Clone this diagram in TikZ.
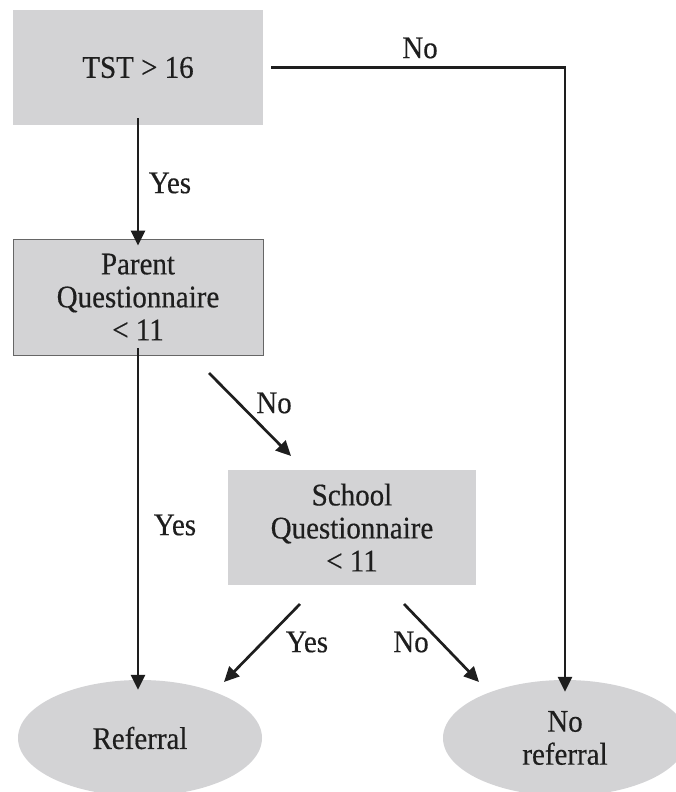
\documentclass[tikz,border=0pt]{standalone}
\usepackage{fontspec}
\setmainfont{Liberation Serif}[FakeStretch=0.92,FakeBold=0.4]
\usetikzlibrary{arrows.meta,shapes.geometric}
\definecolor{boxgray}{HTML}{D3D3D5}
\definecolor{linegray}{HTML}{1E1E1E}
\begin{document}
\begin{tikzpicture}[x=1pt,y=-1pt,
  every node/.style={font=\fontsize{31.5}{33}\selectfont, text=linegray},
  box/.style={fill=boxgray, minimum width=250pt, align=center, inner sep=0pt},
  bordered/.style={draw=gray!80!black, line width=0.8pt},
  oval/.style={ellipse, fill=boxgray, minimum width=244pt, minimum height=116pt, align=center, inner sep=0pt},
  arr/.style={draw=linegray, line width=2.7pt, -{Triangle[length=15pt,width=14pt]}},
  lbl/.style={inner sep=0pt}]
\useasboundingbox (0,0) rectangle (676,792);
\clip (0,0) rectangle (676,792);
\node[box, minimum height=115pt] (tst) at (138,67.5) {TST > 16};
\node[box, bordered, minimum height=116pt] (parent) at (138,297) {Parent\\Questionnaire\\< 11};
\node[box, minimum width=248pt, minimum height=115pt] (school) at (352,527.5) {School\\Questionnaire\\< 11};
\node[oval] (ref) at (140,738) {Referral};
\node[oval] (noref) at (565,738) {No\\referral};
\coordinate (p1) at (209,373);
\coordinate (p2) at (291,456);
\coordinate (s1) at (300,604);
\coordinate (s2) at (224,682);
\coordinate (s3) at (404,604);
\coordinate (s4) at (479,682);
\draw[arr] ([xshift=8pt]tst.east) -| ([yshift=-12pt]noref.north);
\draw[arr] ([yshift=7pt]tst.south) -- ([yshift=-7pt]parent.north);
\draw[arr] ([yshift=7pt]parent.south) -- ([yshift=-10pt]parent.south |- ref.north);
\draw[arr] (p1) -- (p2);
\draw[arr] (s1) -- (s2);
\draw[arr] (s3) -- (s4);
\node[lbl] (lno1) at (420,48) {No};
\node[lbl] (lyes1) at (170,183) {Yes};
\node[lbl] (lyes2) at (175,525) {Yes};
\node[lbl] (lno2) at (274,403) {No};
\node[lbl] (lyes3) at (307,642) {Yes};
\node[lbl] (lno3) at (411,642) {No};
\end{tikzpicture}
\end{document}
